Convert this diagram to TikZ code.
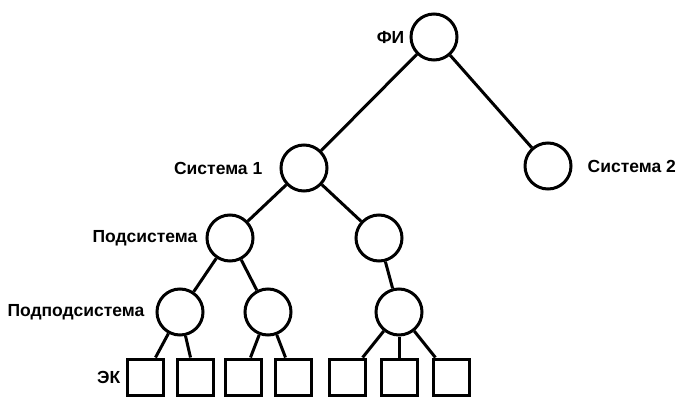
\documentclass[tikz,border=0pt]{standalone}
\usepackage{fontspec}
\setmainfont{Liberation Sans}
\usepackage{tikz}
\usetikzlibrary{positioning}
\newcommand{\treeLine}[0]{3pt}
\newcommand{\labelSize}[0]{\fontsize{17.5}{17.5}\selectfont\bfseries}

\begin{document}
\begin{tikzpicture}[x=1pt, y=-1pt,
    unit/.style={circle, draw, line width=\treeLine, minimum size=46pt, inner sep=0pt},
    leaf/.style={rectangle, draw, line width=\treeLine, minimum size=36pt, inner sep=0pt},
    caption/.style={inner sep=0pt, font=\labelSize},
    branch/.style={line width=\treeLine}]
  \useasboundingbox (0,0) rectangle (682,398);
  % units of the tree
  \node[unit] (fi) at (434,37) {};
  \node[unit] (sys-1) at (304,168) {};
  \node[unit] (sys-2) at (548,166) {};
  \node[unit] (sub-1) at (230,238) {};
  \node[unit] (sub-2) at (379,238) {};
  \node[unit] (subsub-1) at (180,312) {};
  \node[unit] (subsub-2) at (268,312) {};
  \node[unit] (subsub-3) at (399,312) {};
  % elements in the bottom row
  \node[leaf] (ek-1) at (145,377) {};
  \node[leaf] (ek-2) at (195,377) {};
  \node[leaf] (ek-3) at (243,377) {};
  \node[leaf] (ek-4) at (293,377) {};
  \node[leaf] (ek-5) at (347,377) {};
  \node[leaf] (ek-6) at (399,377) {};
  \node[leaf] (ek-7) at (451,377) {};
  % captions
  \node[caption, left=5pt of fi] (fi-text) {ФИ};
  \node[caption, left=17pt of sys-1] (sys-1-text) {Система 1};
  \node[caption, right=15pt of sys-2] (sys-2-text) {Система 2};
  \node[caption, left=8pt of sub-1] (sub-text) {Подсистема};
  \node[caption, left=11pt of subsub-1] (subsub-text) {Подподсистема};
  \node[caption, left=5pt of ek-1] (ek-text) {ЭК};
  % branches
  \draw[branch] (fi) -- (sys-1);
  \draw[branch] (fi) -- (sys-2);
  \draw[branch] (sys-1) -- (sub-1);
  \draw[branch] (sys-1) -- (sub-2);
  \draw[branch] (sub-1) -- (subsub-1);
  \draw[branch] (sub-1) -- (subsub-2);
  \draw[branch] (sub-2) -- (subsub-3);
  \draw[branch] (subsub-1) -- (ek-1);
  \draw[branch] (subsub-1) -- (ek-2);
  \draw[branch] (subsub-2) -- (ek-3);
  \draw[branch] (subsub-2) -- (ek-4);
  \draw[branch] (subsub-3) -- (ek-5);
  \draw[branch] (subsub-3) -- (ek-6);
  \draw[branch] (subsub-3) -- (ek-7);
\end{tikzpicture}
\end{document}
